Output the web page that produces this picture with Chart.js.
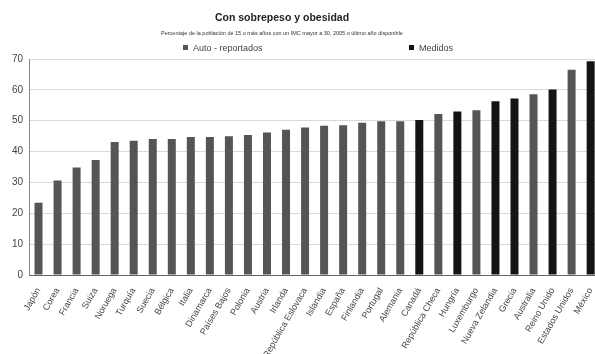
<!DOCTYPE html>
<html>
<head>
<meta charset="utf-8">
<script src="https://cdn.jsdelivr.net/npm/chart.js@4/dist/chart.umd.min.js"></script>
<style>
  html, body { margin: 0; padding: 0; background: #fff; overflow: hidden; }
  #wrap { position: relative; width: 595px; height: 354px; overflow: hidden; font-family: "Liberation Sans", Arial, sans-serif; }
  #chart { position: absolute; left: 0; top: 0; }
  .titulo { position: absolute; left: 0; width: 564px; top: 11px; text-align: center; font-weight: bold; font-size: 10.5px; color: #222; }
  .subtitulo { position: absolute; left: 0; width: 564px; top: 30px; text-align: center; font-size: 5.5px; color: #333; }
  .leyenda { position: absolute; top: 43px; font-size: 9px; color: #444; white-space: nowrap; }
  .leyenda i { display: inline-block; width: 5px; height: 5px; margin-right: 5px; vertical-align: 1px; }
</style>
</head>
<body>
<div id="wrap">
  <canvas id="chart" width="603" height="354"></canvas>
  <div class="titulo">Con sobrepeso y obesidad</div>
  <div class="subtitulo">Percentaje de la población de 15 o más años con un IMC mayor a 30, 2005 o último año disponible</div>
  <div class="leyenda" style="left:183px"><i style="background:#555"></i>Auto - reportados</div>
  <div class="leyenda" style="left:409px"><i style="background:#141414"></i>Medidos</div>
</div>
<script>
// datos
const categorias = ['Japón', 'Corea', 'Francia', 'Suiza', 'Noruega', 'Turquía', 'Suecia', 'Bélgica', 'Italia', 'Dinamarca',
  'Países Bajos', 'Polonia', 'Austria', 'Irlanda', 'República Eslovaca', 'Islandia', 'España', 'Finlandia', 'Portugal', 'Alemania',
  'Canadá', 'República Checa', 'Hungría', 'Luxemburgo', 'Nueva Zelandia', 'Grecia', 'Australia', 'Reino Unido', 'Estados Unidos', 'México']
const valores = [23.4, 30.6, 34.8, 37.3, 43.1, 43.5, 44.1, 44.1, 44.7, 44.7,
  45.0, 45.4, 46.2, 47.1, 47.8, 48.4, 48.5, 49.3, 49.8, 49.8,
  50.2, 52.2, 53.0, 53.4, 56.3, 57.2, 58.6, 60.1, 66.5, 69.3]
const medidos = ['Canadá', 'Hungría', 'Nueva Zelandia', 'Grecia', 'Reino Unido', 'México']

const colorAuto = '#555555'
const colorMedido = '#141414'

const colores = categorias.map(c => medidos.includes(c) ? colorMedido : colorAuto)

const ctx = document.getElementById('chart')

new Chart(ctx, {
  type: 'bar',
  data: {
    labels: categorias,
    datasets: [{
      data: valores,
      backgroundColor: colores,
      borderWidth: 0,
      barPercentage: 0.42,
      categoryPercentage: 1.0
    }]
  },
  options: {
    responsive: false,
    animation: false,
    layout: { padding: { top: 59, left: 0, right: 0, bottom: 0 } },
    plugins: {
      legend: { display: false },
      tooltip: { enabled: false }
    },
    scales: {
      y: {
        min: 0,
        max: 70,
        ticks: { stepSize: 10, color: '#444', font: { family: 'Liberation Sans', size: 10 }, padding: 6 },
        grid: { color: '#d9d9d9', drawTicks: false },
        border: { color: '#888' },
        afterFit: function (scale) { scale.width = 29 }
      },
      x: {
        grid: { display: false },
        border: { color: '#666' },
        ticks: {
          autoSkip: false,
          minRotation: 60,
          maxRotation: 60,
          color: '#444',
          font: { family: 'Liberation Sans', size: 9 }
        },
        afterFit: function (scale) { scale.height = 79 }
      }
    }
  }
})
</script>
</body>
</html>
